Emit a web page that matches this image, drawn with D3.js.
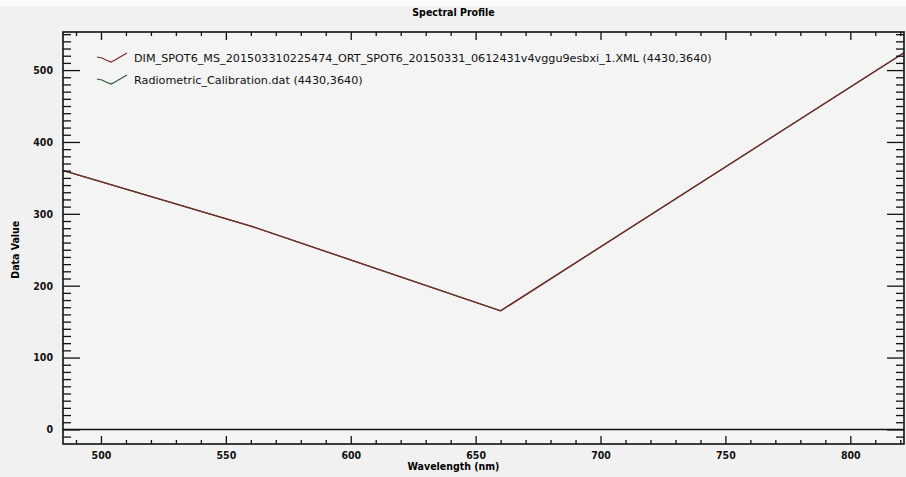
<!DOCTYPE html>
<html>
<head>
<meta charset="utf-8">
<script src="https://cdn.jsdelivr.net/npm/d3@7/dist/d3.min.js"></script>
<style>
  body { margin: 0; background: #f2f2f2; }
  svg { display: block; }
  .axis path { display: none; }
  .axis line { stroke: #111; stroke-width: 1.3; }
  .axis text { font-family: "DejaVu Sans Condensed", sans-serif; font-size: 10.5px; font-weight: bold; fill: #111; }
</style>
</head>
<body>
<svg id="chart" width="906" height="477"></svg>
<script>
// band centres (nm) and values
var wavelengths = [485, 560, 660, 825];
var dimValues = [360, 283, 165, 532];
var calValues = [360, 283, 165, 532];

var xMajor = [500, 550, 600, 650, 700, 750, 800];
var yMajor = [0, 100, 200, 300, 400, 500];

var seriesNames = [
    "DIM_SPOT6_MS_201503310225474_ORT_SPOT6_20150331_0612431v4vggu9esbxi_1.XML (4430,3640)",
    "Radiometric_Calibration.dat (4430,3640)"
];
var seriesColors = ["#7a2a2a", "#2f5a34"];

var plotL = 63, plotR = 904, plotT = 32, plotB = 444;

var svg = d3.select("#chart");

svg.append("rect").attr("width", 906).attr("height", 477).attr("fill", "#f1f1f1");
svg.append("rect").attr("width", 906).attr("height", 6).attr("fill", "#fbfbfb");
svg.append("rect").attr("x", plotL).attr("y", plotT)
    .attr("width", plotR - plotL).attr("height", plotB - plotT).attr("fill", "#f4f4f4");

var x = d3.scaleLinear().domain([484.8, 821.5]).range([plotL, plotR]);
var y = d3.scaleLinear().domain([-20.3, 553]).range([plotB, plotT]);

var xMinor = d3.range(490, 822, 10).filter(function (d) { return d % 50 != 0; });
var yMinor = d3.range(-10, 553, 10).filter(function (d) { return d % 100 != 0; });

// clip for the data lines
svg.append("clipPath").attr("id", "plot-clip")
    .append("rect").attr("x", plotL).attr("y", plotT).attr("width", plotR - plotL).attr("height", plotB - plotT);

// zero line
svg.append("line").attr("x1", plotL).attr("x2", plotR)
    .attr("y1", y(0)).attr("y2", y(0))
    .attr("stroke", "#111").attr("stroke-width", 1.5);

var line = d3.line()
    .x(function (d) { return x(d[0]); })
    .y(function (d) { return y(d[1]); });

var series = [d3.zip(wavelengths, calValues), d3.zip(wavelengths, dimValues)];
var colors = [seriesColors[1], seriesColors[0]];

svg.append("g").attr("clip-path", "url(#plot-clip)")
    .selectAll("path").data(series).enter().append("path")
    .attr("d", line)
    .attr("fill", "none")
    .attr("stroke", function (d, i) { return colors[i]; })
    .attr("stroke-width", 1.3);

// axes, ticks pointing inward
function addAxis(axis, tx, ty) {
    return svg.append("g").attr("class", "axis").attr("transform", "translate(" + tx + "," + ty + ")").call(axis);
}

addAxis(d3.axisBottom(x).tickValues(xMajor).tickSizeInner(-8).tickSizeOuter(0).tickPadding(8)
    .tickFormat(d3.format("d")), 0, plotB);
addAxis(d3.axisBottom(x).tickValues(xMinor).tickSizeInner(-4).tickSizeOuter(0).tickFormat(""), 0, plotB);
addAxis(d3.axisTop(x).tickValues(xMajor).tickSizeInner(-8).tickSizeOuter(0).tickFormat(""), 0, plotT);
addAxis(d3.axisTop(x).tickValues(xMinor).tickSizeInner(-4).tickSizeOuter(0).tickFormat(""), 0, plotT);

addAxis(d3.axisLeft(y).tickValues(yMajor).tickSizeInner(-17).tickSizeOuter(0).tickPadding(10)
    .tickFormat(d3.format("d")), plotL, 0);
addAxis(d3.axisLeft(y).tickValues(yMinor).tickSizeInner(-8).tickSizeOuter(0).tickFormat(""), plotL, 0);
addAxis(d3.axisRight(y).tickValues(yMajor).tickSizeInner(-17).tickSizeOuter(0).tickFormat(""), plotR, 0);
addAxis(d3.axisRight(y).tickValues(yMinor).tickSizeInner(-8).tickSizeOuter(0).tickFormat(""), plotR, 0);

// frame
svg.append("rect").attr("x", plotL).attr("y", plotT)
    .attr("width", plotR - plotL).attr("height", plotB - plotT)
    .attr("fill", "none").attr("stroke", "#111").attr("stroke-width", 1.6);

// titles
svg.append("text").attr("x", (plotL + plotR) / 2 - 30).attr("y", 16)
    .attr("text-anchor", "middle")
    .style("font-family", "DejaVu Sans Condensed, sans-serif").style("font-size", "10.5px").style("font-weight", "bold")
    .text("Spectral Profile");

svg.append("text").attr("x", (plotL + plotR) / 2 - 30).attr("y", 470)
    .attr("text-anchor", "middle")
    .style("font-family", "DejaVu Sans Condensed, sans-serif").style("font-size", "10.5px").style("font-weight", "bold")
    .text("Wavelength (nm)");

svg.append("text").attr("transform", "translate(19," + y(250) + ")rotate(-90)")
    .attr("text-anchor", "middle")
    .style("font-family", "DejaVu Sans Condensed, sans-serif").style("font-size", "10.5px").style("font-weight", "bold")
    .text("Data Value");

// legend
var icon = [[0, -1], [5, 0], [9, 2], [14, 4], [18, 2], [30, -5]];
var legend = svg.append("g").selectAll("g").data(seriesNames).enter().append("g")
    .attr("transform", function (d, i) { return "translate(97," + (58 + i * 22) + ")"; });

legend.append("path")
    .attr("d", d3.line()(icon))
    .attr("fill", "none")
    .attr("stroke", function (d, i) { return seriesColors[i]; })
    .attr("stroke-width", 1.2);

legend.append("text").attr("x", 37).attr("y", 4)
    .style("font-family", "DejaVu Sans, sans-serif").style("font-size", "11.2px")
    .style("fill", "#111")
    .text(function (d) { return d; });
</script>
</body>
</html>
